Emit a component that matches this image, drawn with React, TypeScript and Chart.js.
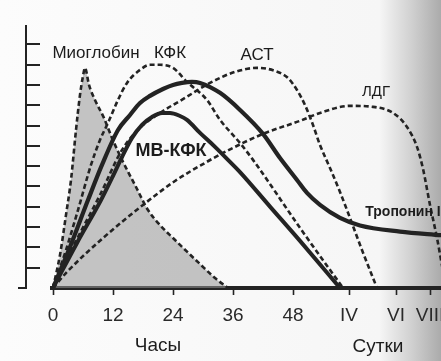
import { useEffect, useRef } from 'react';
import { Chart, registerables } from 'chart.js';

Chart.register(...registerables);

// Axis ticks (x in hours; day marks placed on the same compressed axis)
const xTickValues = [0, 12, 24, 36, 48, 59.2, 68.6, 75.4];
const xTickLabels = ['0', '12', '24', '36', '48', 'IV', 'VI', 'VIII'];
const yTickValues = [1, 2, 3, 4, 5, 6, 7, 8, 9, 10, 11, 12];

// Миоглобин (shaded)
const myoX = [0, 1.4, 2.6, 3.6, 4.6, 5.4, 6.0, 6.4, 7.2, 8.4, 10.2, 11.8, 13.8, 16.4, 19.0, 21.4, 24.0, 29.4, 32.4, 35.0];
const myoY = [0, 1.63, 3.6, 5.32, 7.78, 9.51, 10.44, 10.84, 10.0, 9.26, 8.37, 7.39, 6.31, 5.07, 3.84, 3.1, 2.46, 1.18, 0.49, 0];

// КФК (dashed)
const ckX = [0, 2.6, 5.0, 7.6, 9.4, 11.0, 13.0, 14.8, 17.4, 19.4, 21.4, 24.0, 26.8, 30.8, 33.4, 37.4, 40.0, 49.4, 58.0];
const ckY = [0, 1.87, 3.84, 6.06, 7.29, 8.13, 9.26, 10.1, 10.74, 10.99, 10.99, 10.84, 10.15, 9.26, 8.28, 7.14, 6.31, 2.96, 0];

// МВ-КФК (solid)
const mbX = [0, 4.8, 9.6, 11.8, 13.8, 15.8, 17.8, 19.8, 21.8, 23.4, 25.4, 26.8, 29.4, 32.4, 35.4, 37.4, 43.4, 49.4, 57.4];
const mbY = [0, 2.22, 4.33, 5.42, 6.45, 7.39, 8.03, 8.42, 8.62, 8.62, 8.47, 8.28, 7.64, 6.95, 6.21, 5.71, 4.01, 2.32, 0];

// Тропонин I (solid)
const tnX = [0, 3.4, 7.0, 9.8, 13.0, 15.4, 17.4, 19.4, 22.0, 24.0, 25.8, 27.8, 29.4, 33.4, 37.4, 42.0, 45.4, 48.8, 50.8, 53.4, 57.4, 61.4, 69.4, 77.6];
const tnY = [0, 2.02, 4.33, 6.06, 7.78, 8.52, 9.11, 9.46, 9.8, 10.0, 10.1, 10.15, 10.1, 9.61, 8.77, 7.59, 6.4, 5.32, 4.68, 4.09, 3.45, 3.08, 2.78, 2.6];

// АСТ (dashed)
const astX = [0, 4.4, 9.4, 13.8, 17.4, 21.4, 26.4, 31.4, 36.4, 40.8, 44.4, 47.0, 48.8, 50.4, 52.0, 53.4, 55.4, 57.4, 58.8, 61.8, 64.8];
const astY = [0, 2.22, 4.58, 6.8, 7.88, 8.62, 9.36, 10.1, 10.64, 10.84, 10.69, 10.34, 9.75, 9.01, 8.03, 7.04, 5.91, 4.73, 3.84, 1.87, 0];

// ЛДГ (dashed)
const ldhX = [0, 2.8, 10.0, 18.0, 24.4, 30.4, 34.0, 42.0, 49.4, 53.4, 59.4, 64.0, 68.0, 70.8, 72.8, 74.0, 75.4, 76.8, 78.6];
const ldhY = [0, 0.79, 2.46, 4.09, 5.27, 6.16, 6.65, 7.59, 8.23, 8.62, 8.97, 8.92, 8.62, 7.93, 6.95, 5.87, 4.09, 2.46, 0];

// Text labels anchored in data coordinates
const labelTexts = ['Миоглобин', 'КФК', 'АСТ', 'ЛДГ', 'МВ-КФК', 'Тропонин I', 'Часы', 'Сутки'];
const labelX = [8.6, 23.4, 40.8, 64.6, 23.6, 70.0, 21.0, 65.0];
const labelY = [11.58, 11.58, 11.48, 9.66, 6.75, 3.76, -2.86, -2.9];
const labelFonts = [
  '17px "Liberation Sans", Arial, sans-serif',
  '17px "Liberation Sans", Arial, sans-serif',
  '17px "Liberation Sans", Arial, sans-serif',
  '15px "Liberation Sans", Arial, sans-serif',
  'bold 18px "Liberation Sans", Arial, sans-serif',
  'bold 14px "Liberation Sans", Arial, sans-serif',
  '19px "Liberation Sans", Arial, sans-serif',
  '19px "Liberation Sans", Arial, sans-serif',
];

const zip = (xs: number[], ys: number[]) => xs.map((x, i) => ({ x, y: ys[i] }));

const INK = '#232323';

const bgPlugin = {
  id: 'scanBg',
  beforeDraw(chart: any) {
    const { ctx, width, height } = chart;
    ctx.save();
    const g = ctx.createLinearGradient(0, 0, width, 0);
    g.addColorStop(0, '#fcfcfc');
    g.addColorStop(0.86, '#f6f6f6');
    g.addColorStop(0.93, '#d2d2d2');
    g.addColorStop(1, '#ababab');
    ctx.fillStyle = g;
    ctx.fillRect(0, 0, width, height);
    ctx.restore();
  },
};

const yAxisPlugin = {
  id: 'yAxisManual',
  afterDraw(chart: any) {
    const { ctx } = chart;
    const y = chart.scales.y;
    const ax = 26;
    const y0 = y.getPixelForValue(0);
    ctx.save();
    ctx.strokeStyle = INK;
    ctx.lineWidth = 2;
    ctx.beginPath();
    ctx.moveTo(ax, y.getPixelForValue(12.95));
    ctx.lineTo(ax, y0 + 1);
    ctx.moveTo(18, y0);
    ctx.lineTo(ax, y0);
    yTickValues.forEach((v) => {
      const py = Math.round(y.getPixelForValue(v));
      ctx.moveTo(ax, py);
      ctx.lineTo(ax + 14, py);
    });
    ctx.stroke();
    ctx.restore();
  },
};

const textPlugin = {
  id: 'curveLabels',
  afterDraw(chart: any) {
    const { ctx } = chart;
    const xs = chart.scales.x;
    const ys = chart.scales.y;
    ctx.save();
    ctx.fillStyle = '#1c1c1c';
    ctx.textAlign = 'center';
    ctx.textBaseline = 'middle';
    labelTexts.forEach((t, i) => {
      ctx.font = labelFonts[i];
      ctx.fillText(t, xs.getPixelForValue(labelX[i]), ys.getPixelForValue(labelY[i]));
    });
    ctx.restore();
  },
};

export default function App() {
  const ref = useRef<HTMLCanvasElement | null>(null);

  useEffect(() => {
    if (!ref.current) return;
    const dashed = (data: any[], order: number) => ({
      data,
      borderColor: INK,
      borderWidth: 2.6,
      borderDash: [5, 3],
      pointRadius: 0,
      fill: false,
      cubicInterpolationMode: 'monotone' as const,
      order,
    });
    const solid = (data: any[], order: number, w: number) => ({
      data,
      borderColor: INK,
      borderWidth: w,
      pointRadius: 0,
      fill: false,
      cubicInterpolationMode: 'monotone' as const,
      borderCapStyle: 'round' as const,
      order,
    });

    const chart = new Chart(ref.current, {
      type: 'line',
      data: {
        datasets: [
          {
            ...dashed(zip(myoX, myoY), 10),
            fill: 'origin',
            backgroundColor: 'rgba(150,150,150,0.55)',
          },
          dashed(zip(ldhX, ldhY), 5),
          dashed(zip(astX, astY), 4),
          dashed(zip(ckX, ckY), 3),
          solid(zip(mbX, mbY), 2, 4),
          solid(zip(tnX, tnY), 1, 4.2),
        ],
      },
      options: {
        animation: false,
        responsive: false,
        devicePixelRatio: 1,
        layout: { padding: { left: 52, top: 24, right: 0, bottom: 0 } },
        plugins: { legend: { display: false }, tooltip: { enabled: false } },
        scales: {
          x: {
            type: 'linear',
            min: -0.2,
            max: 77.6,
            afterBuildTicks: (scale: any) => {
              scale.ticks = xTickValues.map((v) => ({ value: v }));
            },
            afterFit: (scale: any) => {
              scale.height = 73;
              scale.paddingLeft = 0;
              scale.paddingRight = 0;
            },
            grid: {
              drawOnChartArea: false,
              drawTicks: true,
              tickLength: 7,
              tickWidth: 1.6,
              tickColor: INK,
            },
            border: { display: true, color: INK, width: 4 },
            ticks: {
              autoSkip: false,
              maxRotation: 0,
              minRotation: 0,
              padding: 9,
              color: '#2a2a2a',
              font: { family: '"Liberation Sans", Arial, sans-serif', size: 19 },
              callback: (_v: any, i: number) => xTickLabels[i],
            },
          },
          y: {
            type: 'linear',
            display: false,
            min: 0,
            max: 13,
          },
        },
      },
      plugins: [bgPlugin, yAxisPlugin, textPlugin],
    });
    return () => chart.destroy();
  }, []);

  return (
    <div style={{ position: 'fixed', left: 0, top: 0, width: 441, height: 361 }}>
      <canvas ref={ref} width={441} height={361} style={{ display: 'block' }} />
    </div>
  );
}
